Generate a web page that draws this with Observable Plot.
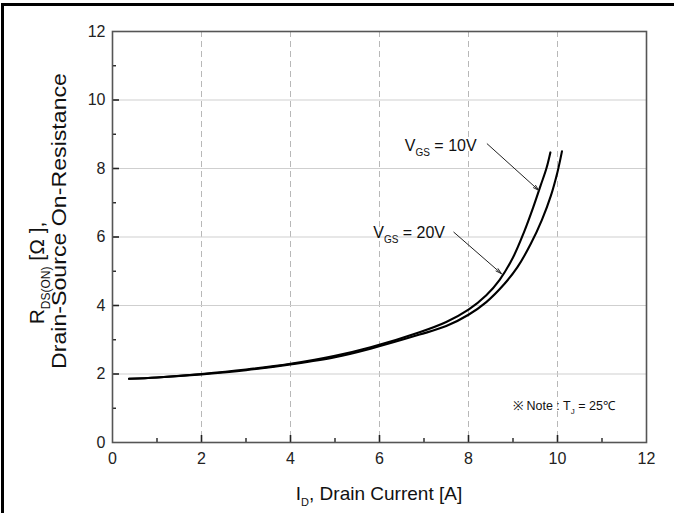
<!DOCTYPE html>
<html><head><meta charset="utf-8">
<script src="https://cdn.jsdelivr.net/npm/d3@7"></script>
<script src="https://cdn.jsdelivr.net/npm/@observablehq/plot@0.6"></script>
<style>
body{margin:0;background:#fff;}
#wrap{position:relative;width:674px;height:513px;overflow:hidden;background:#fff;}
#border{position:absolute;left:1px;top:3px;width:700px;height:540px;border-top:3px solid #000;border-left:3px solid #000;pointer-events:none;}
svg text{font-family:"Liberation Sans",Arial,Helvetica,sans-serif;}
</style></head><body><div id="wrap"><div id="chart"></div><div id="border"></div></div>
<script>
// ---- data ----
const current10 = [0.37, 1.0, 2.0, 3.0, 4.0, 5.0, 5.8, 6.9, 7.5, 8.0, 8.4, 8.7, 9.0, 9.25, 9.45, 9.62, 9.75, 9.84];
const resistance10 = [1.86, 1.90, 2.00, 2.13, 2.30, 2.53, 2.78, 3.22, 3.52, 3.88, 4.30, 4.75, 5.40, 6.15, 6.85, 7.50, 8.00, 8.47];
const current20 = [0.37, 1.0, 2.0, 3.0, 4.0, 5.0, 5.8, 6.9, 7.5, 8.0, 8.4, 8.8, 9.1, 9.4, 9.65, 9.85, 10.0, 10.1];
const resistance20 = [1.86, 1.90, 1.99, 2.11, 2.28, 2.49, 2.74, 3.15, 3.40, 3.73, 4.10, 4.62, 5.12, 5.80, 6.50, 7.20, 7.90, 8.50];
const seriesNames = ["10V", "20V"];
const labelX = [6.58, 5.87];
const labelY = [8.67, 6.14];
const arrowFromX = [8.42, 7.67];
const arrowFromY = [8.72, 6.14];
const arrowToX = [9.58, 8.74];
const arrowToY = [7.36, 4.93];
const xTickLabels = [0, 2, 4, 6, 8, 10, 12];
const yTickLabels = [0, 2, 4, 6, 8, 10, 12];
const majorInner = [2, 4, 6, 8, 10];
const minorInner = [1, 3, 5, 7, 9, 11];

// ---- tables ----
const curves = [
  ...current10.map((x, i) => ({x, y: resistance10[i], s: seriesNames[0]})),
  ...current20.map((x, i) => ({x, y: resistance20[i], s: seriesNames[1]}))
];
const arrows = seriesNames.map((s, i) => ({s, x1: arrowFromX[i], y1: arrowFromY[i], x2: arrowToX[i], y2: arrowToY[i]}));

const W = 674, H = 513, ML = 112, MR = 28, MT = 31, MB = 71;
const innerW = W - ML - MR, innerH = H - MT - MB;

const chart = Plot.plot({
  width: W, height: H,
  marginLeft: ML, marginRight: MR, marginTop: MT, marginBottom: MB,
  style: {background: "#fff", fontFamily: "'Liberation Sans',Arial,sans-serif", fontSize: "16px", color: "#222"},
  x: {domain: [0, 12]},
  y: {domain: [0, 12]},
  marks: [
    Plot.gridX(majorInner, {stroke: "#b8b8b8", strokeOpacity: 1, strokeDasharray: "6,4"}),
    Plot.gridY(majorInner, {stroke: "#cfcfcf", strokeOpacity: 1}),
    Plot.tickX(majorInner, {x: d => d, insetTop: innerH - 7, stroke: "#222", strokeWidth: 1.6}),
    Plot.tickX(minorInner, {x: d => d, insetTop: innerH - 4, stroke: "#222", strokeWidth: 1.4}),
    Plot.tickY(majorInner, {y: d => d, insetRight: innerW - 7, stroke: "#222", strokeWidth: 1.6}),
    Plot.tickY(minorInner, {y: d => d, insetRight: innerW - 4, stroke: "#222", strokeWidth: 1.4}),
    Plot.frame({stroke: "#555", strokeWidth: 1.6}),
    Plot.axisX({ticks: xTickLabels, tickSize: 0, tickPadding: 10, label: null, fontSize: 16}),
    Plot.axisY({ticks: yTickLabels, tickSize: 0, tickPadding: 7, label: null, fontSize: 16}),
    Plot.line(curves, {x: "x", y: "y", z: "s", stroke: "#000", strokeWidth: 2.1, curve: "catmull-rom"}),
    Plot.arrow(arrows, {x1: "x1", y1: "y1", x2: "x2", y2: "y2", stroke: "#222", strokeWidth: 1, headLength: 9, headAngle: 30})
  ]
});
document.getElementById("chart").appendChild(chart);

// ---- texts with subscripts ----
const sx = chart.scale("x"), sy = chart.scale("y");
const svg = d3.select(chart);
function rich(parent, x, y, parts, size, anchor, extra) {
  const t = parent.append("text").attr("x", x).attr("y", y)
    .attr("font-size", size).attr("fill", "#111").attr("text-anchor", anchor || "start");
  if (extra) extra(t);
  let shift = 0;
  parts.forEach(p => {
    const ts = t.append("tspan").text(p.t);
    if (p.sub) {
      ts.attr("font-size", p.size).attr("dy", p.dy - shift);
      shift = p.dy;
    } else {
      if (shift) ts.attr("dy", -shift);
      shift = 0;
    }
  });
  return t;
}
seriesNames.forEach((s, i) => {
  rich(svg, sx.apply(labelX[i]), sy.apply(labelY[i]) + 6,
    [{t: "V"}, {t: "GS", sub: true, size: 10, dy: 5}, {t: " = " + s}], 16);
});
rich(svg, sx.apply(11.3), sy.apply(0.93),
  [{t: "※ Note : T"}, {t: "J", sub: true, size: 8, dy: 4}, {t: " = 25℃"}], 12.5, "end");
rich(svg, sx.apply(6), H - 13,
  [{t: "I"}, {t: "D", sub: true, size: 11, dy: 6}, {t: ", Drain Current [A]"}], 19, "middle");
const g1 = svg.append("g").attr("transform", "translate(44,273) rotate(-90)");
rich(g1, 0, 0, [{t: "R"}, {t: "DS(ON)", sub: true, size: 12, dy: 6}, {t: " [Ω ],"}], 21, "middle");
const g2 = svg.append("g").attr("transform", "translate(66,221) rotate(-90)");
rich(g2, 0, 0, [{t: "Drain-Source On-Resistance"}], 21, "middle",
  t => t.attr("textLength", 296).attr("lengthAdjust", "spacingAndGlyphs"));
</script></body></html>
